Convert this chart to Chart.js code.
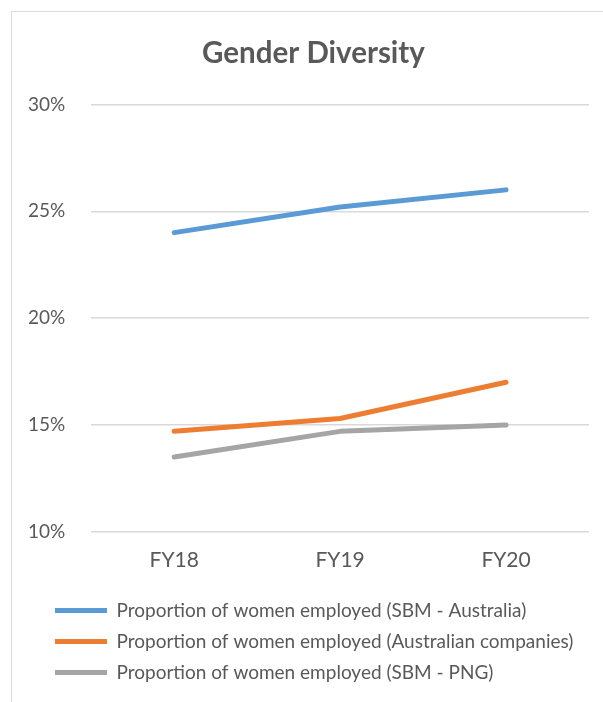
<!DOCTYPE html>
<html>
<head>
<meta charset="utf-8">
<script src="https://cdn.jsdelivr.net/npm/chart.js@4.4.1/dist/chart.umd.min.js"></script>
<style>
  html, body { margin: 0; padding: 0; background: #fff; overflow: hidden; }
  #marco {
    position: absolute; left: 11px; top: 11px; width: 700px; height: 800px;
    border: 1px solid #d9d9d9; box-sizing: border-box;
  }
  #contenedor { position: absolute; left: 0; top: 0; width: 603px; height: 702px; }
</style>
</head>
<body>
<div id="marco"></div>
<div id="contenedor"><canvas id="grafica" width="603" height="702"></canvas></div>
<script>
const anios = ['FY18', 'FY19', 'FY20'];
const sbmAustralia = [24.0, 25.2, 26.0];
const empresasAustralianas = [14.7, 15.3, 17.0];
const sbmPng = [13.5, 14.7, 15.0];

const colores = {
  azul: '#5b9bd5',
  naranja: '#ed7d31',
  gris: '#a5a5a5'
};

const fuente = "Lato, 'Open Sans', sans-serif";
const colorTexto = '#595959';

function serie(etiqueta, datos, color) {
  return {
    label: etiqueta,
    data: datos,
    borderColor: color,
    backgroundColor: color,
    borderWidth: 5,
    borderCapStyle: 'round',
    borderJoinStyle: 'round',
    pointRadius: 0,
    pointHoverRadius: 0,
    pointStyle: 'line',
    tension: 0
  };
}

// ajustar leyenda y titulo horizontalmente sin tocar el eje
const desplazarBloques = {
  id: 'desplazarBloques',
  afterLayout(chart) {
    if (chart.legend) chart.legend.left += 15;
    if (chart.titleBlock) chart.titleBlock.left += 10;
  }
};

const ctx = document.getElementById('grafica').getContext('2d');
const chart = new Chart(ctx, {
  type: 'line',
  data: {
    labels: anios,
    datasets: [
      serie('Proportion of women employed (SBM - Australia)', sbmAustralia, colores.azul),
      serie('Proportion of women employed (Australian companies)', empresasAustralianas, colores.naranja),
      serie('Proportion of women employed (SBM - PNG)', sbmPng, colores.gris)
    ]
  },
  plugins: [desplazarBloques],
  options: {
    responsive: false,
    animation: false,
    layout: { padding: { left: 28, right: 14, top: 26, bottom: 10 } },
    plugins: {
      title: {
        display: true,
        text: 'Gender Diversity',
        color: colorTexto,
        font: { family: fuente, size: 29.5, weight: 'bold' },
        padding: { top: 10, bottom: 33 }
      },
      legend: {
        position: 'bottom',
        align: 'start',
        labels: {
          usePointStyle: true,
          pointStyleWidth: 52,
          boxHeight: 5,
          padding: 12,
          color: colorTexto,
          font: { family: fuente, size: 19 }
        }
      },
      tooltip: { enabled: false }
    },
    scales: {
      x: {
        offset: true,
        grid: { display: false },
        border: { display: false },
        afterFit: (escala) => {
          escala.height += 8;
          escala.paddingLeft = 0;
          escala.paddingRight = 0;
        },
        ticks: {
          color: colorTexto,
          font: { family: fuente, size: 21 },
          padding: 8
        }
      },
      y: {
        min: 10,
        max: 30,
        grid: { color: '#d9d9d9', lineWidth: 1.5, drawTicks: false },
        border: { display: false },
        // chart.js reserva el padding dos veces; quitar el sobrante de la izquierda
        afterFit: (escala) => { escala.width -= escala.options.ticks.padding; },
        ticks: {
          stepSize: 5,
          color: colorTexto,
          font: { family: fuente, size: 19 },
          padding: 26,
          callback: (v) => v + '%'
        }
      }
    }
  }
});
</script>
</body>
</html>
